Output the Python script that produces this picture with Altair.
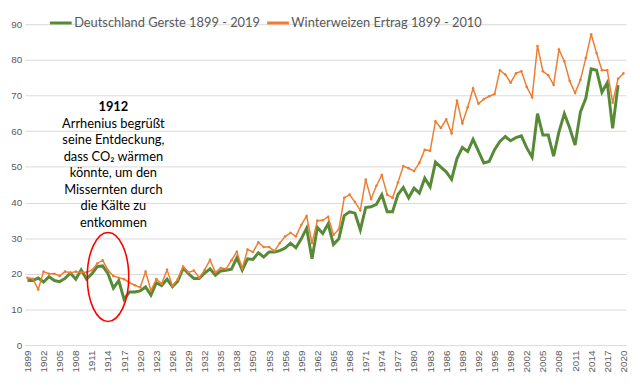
import altair as alt
import pandas as pd

# x categories (years present in the chart, in order)
years = ([str(y) for y in range(1899, 1939)] + ["1948", "1949"]
         + [str(y) for y in range(1950, 1999)] + ["1999", "2000"]
         + [str(y) for y in range(2002, 2021)])

# every third category carries a tick label
x_tick_labels = ["1899", "1902", "1905", "1908", "1911", "1914", "1917", "1920", "1923",
                 "1926", "1929", "1932", "1935", "1938", "1950", "1953", "1956", "1959",
                 "1962", "1965", "1968", "1971", "1974", "1977", "1980", "1983", "1986",
                 "1989", "1992", "1995", "1998", "2002", "2005", "2008", "2011", "2014",
                 "2017", "2020"]
y_ticks = [0, 10, 20, 30, 40, 50, 60, 70, 80, 90]

series_names = ["Deutschland Gerste 1899 - 2019", "Winterweizen Ertrag 1899 - 2010"]

gerste = [18.1, 18.1, 18.8, 17.7, 19.2, 18.1, 17.8, 18.7, 20.2, 18.5,
          21.1, 18.5, 20.0, 22.0, 22.2, 20.0, 16.0, 18.1, 12.8, 14.9,
          14.9, 15.2, 16.3, 14.0, 17.5, 16.7, 18.5, 16.4, 17.9, 21.6,
          20.0, 18.7, 18.7, 20.2, 21.4, 19.6, 20.8, 21.0, 21.3, 24.5,
          21.0, 24.2, 24.0, 25.9, 24.7, 26.1, 26.1, 26.5, 27.2, 28.6,
          27.3, 29.8, 32.8, 24.2, 33.0, 31.3, 34.0, 28.2, 29.8, 36.3,
          37.4, 37.0, 32.3, 38.6, 38.8, 39.5, 42.2, 37.4, 37.4, 42.2,
          44.2, 41.3, 44.0, 42.6, 46.8, 44.4, 51.3, 49.9, 48.6, 46.5,
          52.3, 55.4, 54.3, 57.7, 54.4, 51.1, 51.5, 54.8, 57.1, 58.5,
          57.3, 58.2, 58.7, 55.3, 52.7, 64.9, 58.9, 58.9, 53.0, 59.8,
          64.9, 60.9, 56.1, 65.4, 69.2, 77.5, 77.1, 70.9, 73.6, 60.8,
          72.9]

weizen = [18.9, 18.6, 15.6, 20.6, 20.0, 20.0, 19.4, 20.6, 20.3, 20.6,
          20.4, 20.4, 21.0, 22.9, 23.8, 21.0, 19.4, 18.9, 18.5, 17.5,
          16.8, 16.2, 20.6, 15.3, 18.5, 17.2, 21.1, 16.6, 18.5, 22.0,
          20.4, 20.9, 18.9, 21.1, 23.9, 20.4, 21.6, 21.4, 23.8, 26.2,
          21.5, 26.8, 26.1, 28.8, 27.5, 27.5, 26.4, 28.6, 30.5, 31.5,
          30.5, 33.7, 36.2, 28.6, 34.9, 35.0, 36.0, 30.9, 32.5, 41.3,
          42.2, 40.1, 37.8, 46.4, 41.0, 44.7, 47.7, 42.2, 41.3, 45.6,
          50.2, 49.6, 48.8, 51.1, 54.8, 54.5, 62.8, 60.9, 63.3, 59.4,
          68.6, 62.2, 66.7, 72.0, 67.7, 69.0, 69.8, 70.4, 77.1, 75.9,
          73.6, 76.2, 76.8, 72.4, 69.5, 83.9, 76.8, 75.7, 73.0, 82.9,
          79.6, 74.1, 70.7, 74.4, 80.5, 87.2, 81.9, 77.1, 77.1, 68.0,
          74.7, 76.2]

annotation_title = "1912"
annotation_lines = ["Arrhenius begrüßt", "seine Entdeckung,", "dass CO₂ wärmen",
                    "könnte, um den", "Missernten durch", "die Kälte zu", "entkommen"]
annotation_x = "1915"
annotation_title_y = 66.7
annotation_body_y = 63.7
ellipse_x = "1914"
ellipse_y = 19.1

GREEN = "#578A36"
ORANGE = "#ED7D31"
GREY = "#595959"

rows = []
for i, yr in enumerate(years):
    if i < len(gerste):
        rows.append({"Jahr": yr, "Serie": series_names[0], "Wert": gerste[i]})
    rows.append({"Jahr": yr, "Serie": series_names[1], "Wert": weizen[i]})
df = pd.DataFrame(rows)

x_enc = alt.X("Jahr:O", sort=years,
              scale=alt.Scale(type="point", padding=0.5),
              axis=alt.Axis(values=x_tick_labels, labelAngle=-90, title=None,
                            ticks=False, domain=False, grid=False, labelPadding=5,
                            labelFontSize=10, labelFont="Liberation Sans",
                            labelColor=GREY, labelOverlap=False))
y_enc = alt.Y("Wert:Q", scale=alt.Scale(domain=[0, 90], nice=False),
              axis=alt.Axis(values=y_ticks, tickCount=10, title=None, ticks=False,
                            domain=False, gridColor="#D9D9D9", gridWidth=1,
                            labelPadding=3, labelFontSize=10,
                            labelFont="Liberation Sans", labelColor=GREY,
                            labelOverlap=False))
color_enc = alt.Color("Serie:N",
                      scale=alt.Scale(domain=series_names, range=[GREEN, ORANGE]),
                      legend=alt.Legend(title=None, orient="none", legendX=24, legendY=-14,
                                        direction="horizontal", symbolType="stroke",
                                        symbolSize=484, symbolStrokeWidth=3,
                                        labelFontSize=13, labelFont="Lato",
                                        labelColor=GREY, columnPadding=0,
                                        labelOffset=1, padding=0, labelLimit=0))

base = alt.Chart(df).encode(x=x_enc, y=y_enc, color=color_enc)

green_line = base.transform_filter(
    alt.datum.Serie == series_names[0]).mark_line(strokeWidth=3)
orange_line = base.transform_filter(
    alt.datum.Serie == series_names[1]).mark_line(
    strokeWidth=1.5, point=alt.OverlayMarkDef(size=7, filled=True))

k = 0.552
a = 0.467
ellipse_path = (f"M 0 -1 C {k*a:.3f} -1 {a} -{k} {a} 0 "
                f"C {a} {k} {k*a:.3f} 1 0 1 "
                f"C -{k*a:.3f} 1 -{a} {k} -{a} 0 "
                f"C -{a} -{k} -{k*a:.3f} -1 0 -1 Z")

ell_df = pd.DataFrame({"Jahr": [ellipse_x], "Wert": [ellipse_y]})
ellipse = alt.Chart(ell_df).mark_point(
    shape=ellipse_path, size=8100, filled=False, color="#FF0000",
    strokeWidth=1.6, opacity=1).encode(x=x_enc, y=y_enc)

title_df = pd.DataFrame({"Jahr": [annotation_x], "Wert": [annotation_title_y],
                         "t": [annotation_title]})
title_text = alt.Chart(title_df).mark_text(
    font="Lato", fontSize=13, fontWeight="bold", color="#000000",
    align="center", baseline="middle").encode(x=x_enc, y=y_enc, text="t:N")

body_df = pd.DataFrame({"Jahr": [annotation_x], "Wert": [annotation_body_y],
                        "t": ["\n".join(annotation_lines)]})
body_text = alt.Chart(body_df).mark_text(
    font="Lato", fontSize=13, color="#000000", align="center", baseline="top",
    lineBreak="\n", lineHeight=16.7).encode(x=x_enc, y=y_enc, text="t:N")

chart = alt.layer(green_line, orange_line, ellipse, title_text, body_text).properties(
    width=609, height=325,
    autosize=alt.AutoSizeParams(type="none"),
    padding={"left": 17, "top": 14, "right": 6, "bottom": 38},
    background="white",
).configure_view(stroke=None)

chart.save("out.html", embed_options={"renderer": "svg", "actions": False})
